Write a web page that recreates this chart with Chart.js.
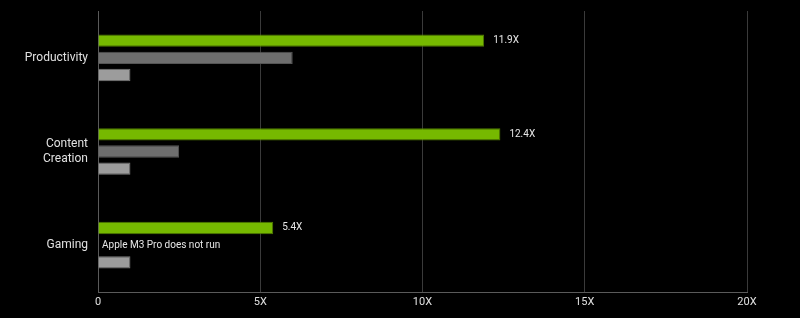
<!DOCTYPE html>
<html>
<head>
<meta charset="utf-8">
<script src="https://cdn.jsdelivr.net/npm/chart.js@4.4.1/dist/chart.umd.min.js"></script>
<style>
  html, body { margin: 0; padding: 0; background: #000; }
  #wrap { width: 800px; height: 318px; position: relative; }
</style>
</head>
<body>
<div id="wrap"><canvas id="chart"></canvas></div>
<script>
// Chart data
const categories = [['Productivity'], ['Content', 'Creation'], ['Gaming']];
const rtxValues = [11.9, 12.4, 5.4];
const m3ProValues = [6.0, 2.5, null];
const baseValues = [1.0, 1.0, 1.0];
const rtxLabels = ['11.9X', '12.4X', '5.4X'];
const missingNotes = ['', '', 'Apple M3 Pro does not run'];
const xTicks = ['0', '5X', '10X', '15X', '20X'];

const FONT = 'Roboto, "DejaVu Sans", sans-serif';

// Draws the value labels and the "does not run" note next to the bars
const barLabels = {
    id: 'barLabels',
    afterDatasetsDraw(chart) {
        const ctx = chart.ctx;
        const xs = chart.scales.x;
        ctx.save();
        ctx.font = '10px ' + FONT;
        ctx.fillStyle = '#e6e6e6';
        ctx.textBaseline = 'middle';
        ctx.textAlign = 'left';
        const rtxMeta = chart.getDatasetMeta(0);
        rtxMeta.data.forEach((bar, i) => {
            ctx.fillText(rtxLabels[i], bar.x + 9, bar.y);
        });
        const m3Meta = chart.getDatasetMeta(1);
        m3Meta.data.forEach((bar, i) => {
            if (missingNotes[i]) {
                ctx.fillText(missingNotes[i], xs.getPixelForValue(0) + 4, bar.y);
            }
        });
        ctx.restore();
    }
};

const ctx = document.getElementById('chart').getContext('2d');
const chart = new Chart(ctx, {
    type: 'bar',
    data: {
        labels: categories,
        datasets: [
            {
                label: 'RTX',
                data: rtxValues,
                backgroundColor: '#76b900',
                borderColor: '#4f7a00',
                borderWidth: 1
            },
            {
                label: 'Apple M3 Pro',
                data: m3ProValues,
                backgroundColor: '#6e6e6e',
                borderColor: '#555555',
                borderWidth: 1
            },
            {
                label: 'Base',
                data: baseValues,
                backgroundColor: '#9c9c9c',
                borderColor: '#7a7a7a',
                borderWidth: 1
            }
        ]
    },
    options: {
        indexAxis: 'y',
        responsive: true,
        maintainAspectRatio: false,
        animation: false,
        layout: {
            padding: { top: 11, right: 53, left: 0, bottom: 0 }
        },
        datasets: {
            bar: {
                categoryPercentage: 0.55,
                barPercentage: 0.72
            }
        },
        scales: {
            x: {
                min: 0,
                max: 20,
                ticks: {
                    stepSize: 5,
                    color: '#e0e0e0',
                    font: { family: FONT, size: 11 },
                    padding: 4,
                    callback: (v, i) => xTicks[i]
                },
                grid: {
                    color: '#3a3a3a',
                    lineWidth: 1,
                    drawTicks: false
                },
                border: { color: '#5a5a5a', width: 1 },
                afterFit: s => { s.height = 26; }
            },
            y: {
                ticks: {
                    color: '#e0e0e0',
                    font: { family: FONT, size: 12 },
                    padding: 10
                },
                grid: { display: false, drawTicks: false },
                border: { color: '#5a5a5a', width: 1 },
                afterFit: s => {
                    s.width = 98;
                    s.paddingTop = 0;
                    s.paddingBottom = 0;
                }
            }
        },
        plugins: {
            legend: { display: false },
            tooltip: { enabled: false }
        }
    },
    plugins: [barLabels]
});
</script>
</body>
</html>
